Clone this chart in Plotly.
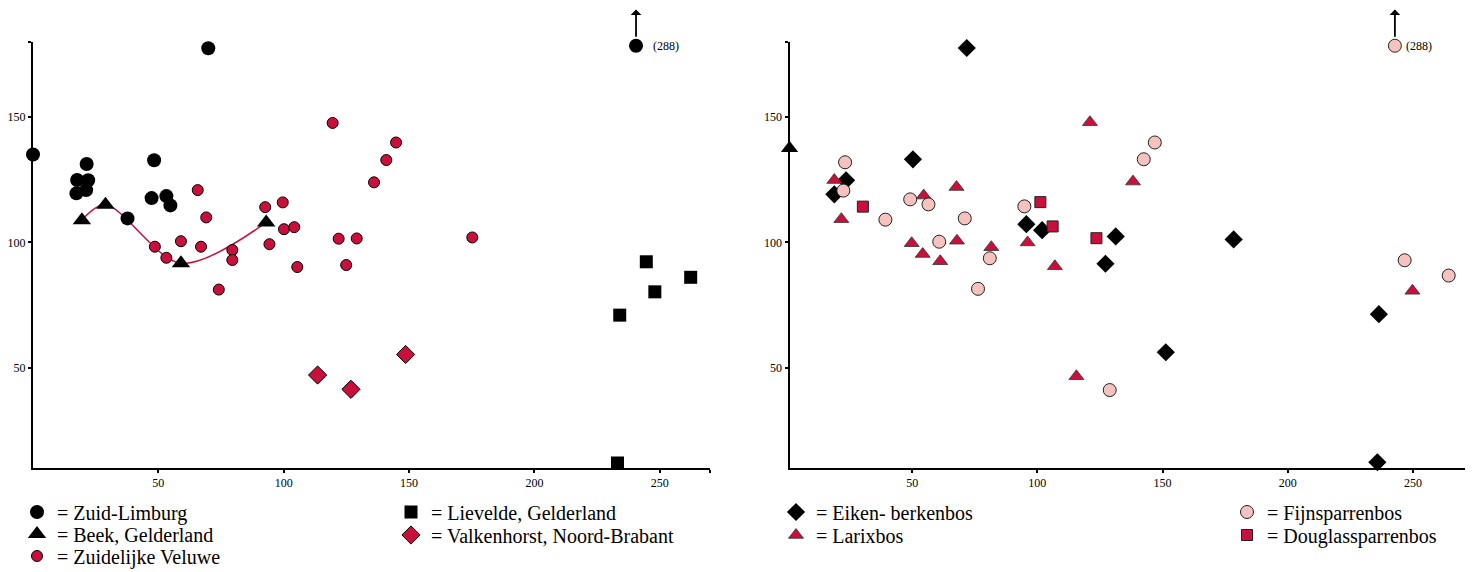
import plotly.graph_objects as go

RED = '#C8103A'
PINK = '#F5C2BE'
BLACK = '#000000'

# ---------------- Left panel: regions ----------------
zl_x = [0, 69.9, 240.5, 21.4, 17.6, 22.0, 17.3, 21.2, 48.3, 47.3, 53.2, 54.8, 37.7]
zl_y = [135.1, 177.5, 178.5, 131.3, 124.9, 124.8, 119.6, 120.9, 132.8, 117.7, 118.5, 114.8, 109.6]

beek_x = [19.5, 28.9, 59.0, 93.0]
beek_y = [108.9, 115.1, 91.7, 108.0]

zv_x = [119.5, 144.8, 140.9, 136.0, 65.7, 69.1, 92.6, 99.6, 100.1, 104.2, 121.9, 129.1,
        175.2, 59.0, 48.6, 67.0, 79.5, 94.3, 53.2, 79.5, 105.4, 124.9, 74.1]
zv_y = [147.7, 139.9, 132.9, 124.0, 120.9, 110.0, 114.1, 116.0, 105.3, 106.1, 101.5, 101.6,
        102.0, 100.5, 98.3, 98.3, 97.0, 99.3, 93.9, 93.0, 90.2, 91.0, 81.2]

lievelde_x = [244.6, 262.3, 248.0, 234.0, 233.1]
lievelde_y = [92.3, 86.1, 80.3, 71.0, 12.0]

valk_x = [113.5, 126.8, 148.6]
valk_y = [47.1, 41.4, 55.3]

# ---------------- Right panel: forest types ----------------
eik_x = [71.8, 50.3, 23.6, 18.9, 95.6, 101.9, 131.3, 178.4, 127.2, 151.3, 236.4, 235.8]
eik_y = [177.6, 133.2, 124.8, 119.2, 107.3, 104.9, 102.4, 101.2, 91.5, 56.2, 71.4, 12.3]

larix_x = [18.9, 21.7, 54.6, 67.7, 49.8, 67.9, 81.6, 96.1, 121.0, 138.2, 54.2, 61.2, 107.0, 115.6, 249.8]
larix_y = [124.9, 109.3, 118.7, 122.1, 99.7, 100.7, 98.1, 100.0, 148.0, 124.3, 95.4, 92.5, 90.5, 46.6, 80.7]

fijn_x = [242.8, 146.9, 142.5, 23.2, 22.5, 49.2, 56.5, 39.3, 71.0, 94.8, 60.8, 81.0, 76.3, 128.9, 246.7, 264.3]
fijn_y = [178.5, 139.9, 133.2, 132.0, 120.7, 117.2, 115.2, 109.1, 109.6, 114.4, 100.3, 93.7, 81.5, 41.1, 92.9, 86.8]

doug_x = [30.3, 101.2, 106.1, 123.6]
doug_y = [114.3, 116.1, 106.4, 101.7]

axis_mark_x = [1]
axis_mark_y = [137.6]

outlier_label = '(288)'

x_ticks_l = [50, 100, 150, 200, 250, 270]
x_ticks_r = [50, 100, 150, 200, 250, 272]
x_ticktext = ['50', '100', '150', '200', '250', '']
y_ticks = [50, 100, 150, 180]
y_ticktext = ['50', '100', '150', '']
X_RANGE_L = [0, 270]
X_RANGE_R = [1, 272]
Y_RANGE = [10, 180]

LEG_FONT = dict(family='Liberation Serif', size=20, color='black')

# page body has an 8px margin: work in page pixels and convert
OFF = 8
W, H = 1465, 564
L = 33 - OFF
T = 42 - OFF
B = H - (468 - OFF)
R = W - (1468 - OFF)
PW = W - L - R
PH = H - T - B


def px(page_x):
    return (page_x - OFF - L) / PW


def py(page_y):
    return (H - B - (page_y - OFF)) / PH


# legend slots (left x of legend box, row centre) in page pixels
legend_slots = {
    'legend': (17, 512), 'legend2': (17, 534), 'legend3': (17, 556),
    'legend4': (391, 512), 'legend5': (391, 535),
    'legend6': (776, 512), 'legend7': (776, 535),
    'legend8': (1227, 512), 'legend9': (1227, 535),
}

fig = go.Figure()


def add(x, y, name, symbol, color, size, xa, ya, legend, line_col=None, lw=0):
    fig.add_trace(go.Scatter(
        x=x, y=y, mode='markers', name=name, xaxis=xa, yaxis=ya,
        legend=legend, cliponaxis=False, showlegend=True,
        marker=dict(symbol=symbol, color=color, size=size,
                    line=dict(color=line_col or color, width=lw)),
    ))


# smooth line through Beek points
fig.add_trace(go.Scatter(x=beek_x, y=beek_y, mode='lines',
                         line=dict(color=RED, width=1.5, shape='spline', smoothing=0.9),
                         showlegend=False, xaxis='x', yaxis='y', hoverinfo='skip'))

add(zl_x, zl_y, '= Zuid-Limburg', 'circle', BLACK, 14, 'x', 'y', 'legend')
add(beek_x, beek_y, '= Beek, Gelderland', 'triangle-up', BLACK, 16, 'x', 'y', 'legend2')
add(zv_x, zv_y, '= Zuidelijke Veluwe', 'circle', RED, 11, 'x', 'y', 'legend3', BLACK, 1)
add(lievelde_x, lievelde_y, '= Lievelde, Gelderland', 'square', BLACK, 13, 'x', 'y', 'legend4')
add(valk_x, valk_y, '= Valkenhorst, Noord-Brabant', 'diamond', RED, 14, 'x', 'y', 'legend5', BLACK, 1)

add(eik_x, eik_y, '= Eiken- berkenbos', 'diamond', BLACK, 14, 'x2', 'y2', 'legend6')
add(larix_x, larix_y, '= Larixbos', 'triangle-up', RED, 13, 'x2', 'y2', 'legend7', '#333333', 0.8)
add(fijn_x, fijn_y, '= Fijnsparrenbos', 'circle', PINK, 13, 'x2', 'y2', 'legend8', '#222222', 1)
add(doug_x, doug_y, '= Douglassparrenbos', 'square', RED, 11, 'x2', 'y2', 'legend9', '#222222', 1)

fig.add_trace(go.Scatter(x=axis_mark_x, y=axis_mark_y, mode='markers', showlegend=False, cliponaxis=False,
                         xaxis='x2', yaxis='y2', marker=dict(symbol='triangle-up', color=BLACK, size=15)))

# outlier arrows and labels
for xs, ys, xref, yref, shift in [(zl_x, zl_y, 'x', 'y', 15), (fijn_x, fijn_y, 'x2', 'y2', 9)]:
    i = max(range(len(ys)), key=lambda k: xs[k] if ys[k] > 170 else -1)
    ox, oy = xs[i], ys[i]
    fig.add_annotation(x=ox, y=oy, xref=xref, yref=yref, ax=0, ay=-39,
                       text='', showarrow=True, arrowside='start', arrowhead=2, arrowsize=2.8,
                       arrowwidth=1.8, arrowcolor='black', standoff=9)
    fig.add_annotation(x=ox, y=oy, xref=xref, yref=yref, text=outlier_label, showarrow=False,
                       xanchor='left', xshift=shift, font=dict(family='Liberation Serif', size=12, color='black'))

axis_common = dict(showline=True, linecolor='black', linewidth=2, showgrid=False, zeroline=False,
                   ticks='outside', ticklen=3, tickwidth=1.5, tickcolor='black',
                   tickfont=dict(family='Liberation Serif', size=12, color='black'))

legends = {}
for key, (lx, ly) in legend_slots.items():
    legends[key] = dict(x=px(lx), y=py(ly), xanchor='left', yanchor='middle', font=LEG_FONT,
                        itemsizing='trace', bgcolor='rgba(0,0,0,0)', borderwidth=0)

fig.update_layout(
    width=W, height=H, margin=dict(l=L, r=R, t=T, b=B, pad=0, autoexpand=False),
    paper_bgcolor='white', plot_bgcolor='white', hovermode=False,
    xaxis=dict(domain=[0, px(710)], range=X_RANGE_L, tickvals=x_ticks_l, ticktext=x_ticktext, anchor='y', **axis_common),
    yaxis=dict(domain=[0, 1], range=Y_RANGE, tickvals=y_ticks, ticktext=y_ticktext, anchor='x', **axis_common),
    xaxis2=dict(domain=[px(789.5), 1], range=X_RANGE_R, tickvals=x_ticks_r, ticktext=x_ticktext, anchor='y2', **axis_common),
    yaxis2=dict(domain=[0, 1], range=Y_RANGE, tickvals=y_ticks, ticktext=y_ticktext, anchor='x2', **axis_common),
    **legends,
)

fig.write_html('out.html')
